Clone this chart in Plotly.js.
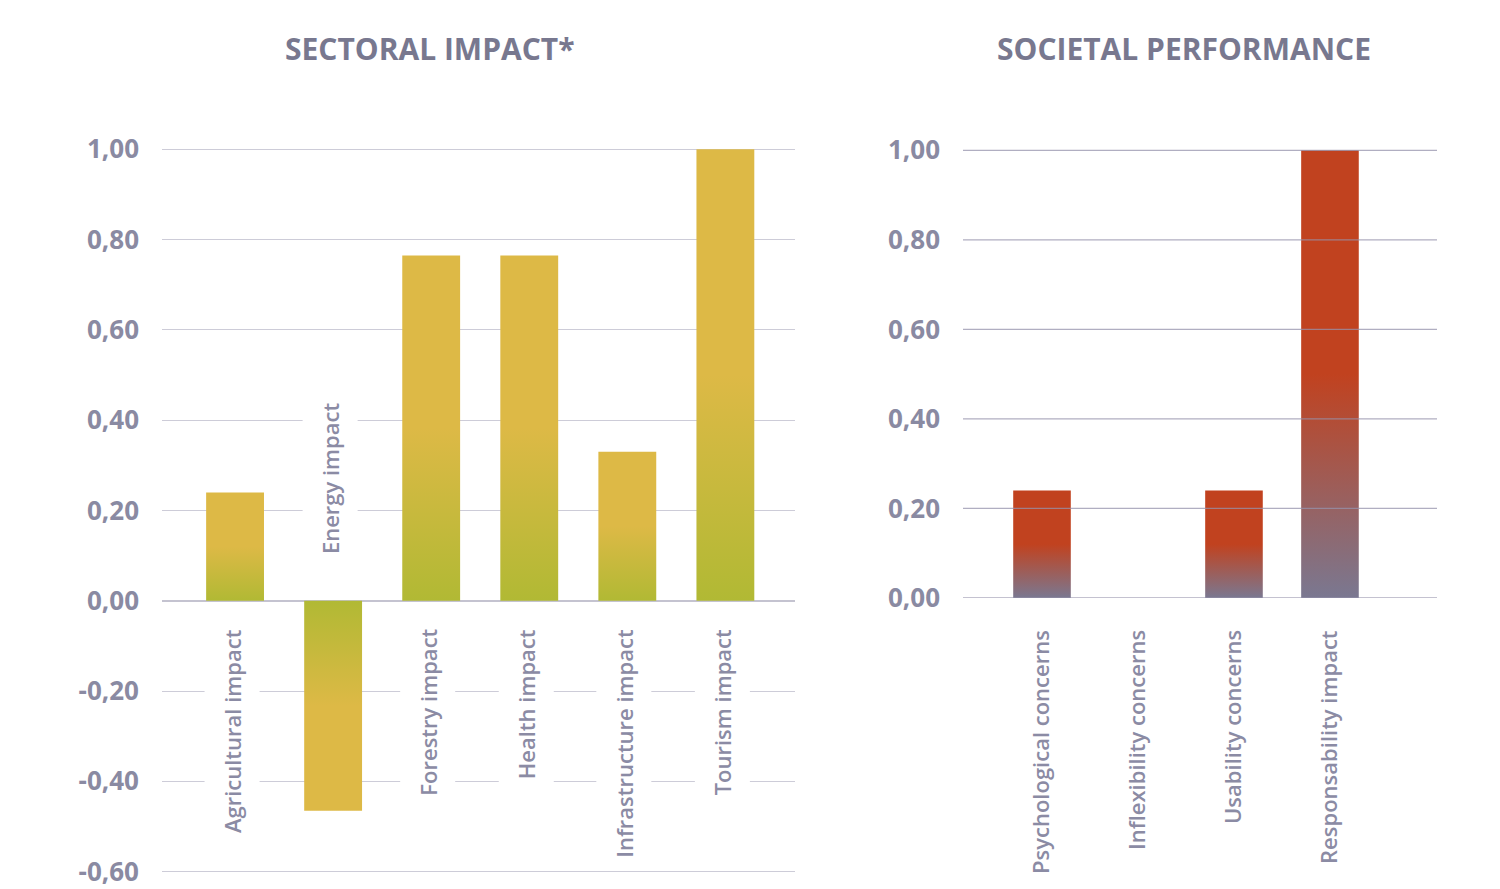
<!DOCTYPE html>
<html><head><meta charset="utf-8">
<script src="https://cdn.plot.ly/plotly-3.0.1.min.js"></script>
<style>html,body{margin:0;padding:0;background:#fff}#chart{width:1500px;height:889px}</style>
</head><body><div id="chart"></div>
<script>
// ---- data ----
const sectorCategories = ['Agricultural impact','Energy impact','Forestry impact','Health impact','Infrastructure impact','Tourism impact'];
const sectorValues = [0.24, -0.465, 0.765, 0.765, 0.33, 1.00];
const societalCategories = ['Psychological concerns','Inflexibility concerns','Usability concerns','Responsability impact'];
const societalValues = [0.24, 0.00, 0.24, 1.00];
const leftTickVals = [-0.6,-0.4,-0.2,0,0.2,0.4,0.6,0.8,1.0];
const rightTickVals = [0,0.2,0.4,0.6,0.8,1.0];
const chartTitles = ['SECTORAL IMPACT*','SOCIETAL PERFORMANCE'];

// ---- style ----
const FONT = '"Open Sans", Lato, sans-serif';
const YELLOW = '#DDB946', OLIVE = '#B1B934';
const RED = '#C1421F', SLATE = '#7A7891';
const LABEL = '#8B8BA4', TICK = '#8A8AA2', TITLE = '#78788F';

function barTraces(cats, vals, xa, ya, w, low, high) {
  return cats.map((c, i) => {
    const v = vals[i];
    const t = {
      type: 'scatter', mode: 'lines', xaxis: xa, yaxis: ya, name: c,
      x: [i - w/2, i - w/2, i + w/2, i + w/2, i - w/2],
      y: [0, v, v, 0, 0],
      fill: 'toself', fillcolor: high, line: {width: 0, color: high},
      hoveron: 'fills', hoverinfo: 'text',
      text: c + ': ' + v.toFixed(2).replace('.', ','),
      showlegend: false
    };
    if (v !== 0) {
      t.fillgradient = {
        type: 'vertical',
        colorscale: v > 0 ? [[0, low], [0.5, high], [1, high]] : [[0, high], [0.5, high], [1, low]],
        start: Math.min(0, v), stop: Math.max(0, v)
      };
    }
    return t;
  });
}

const data = [
  ...barTraces(sectorCategories, sectorValues, 'x', 'y', 0.59, OLIVE, YELLOW),
  ...barTraces(societalCategories, societalValues, 'x2', 'y2', 0.60, SLATE, RED)
];

const annotations = [];
sectorCategories.forEach((c, i) => {
  const neg = sectorValues[i] < 0;
  annotations.push({
    text: c, xref: 'x', yref: 'paper', x: i, xshift: -3,
    y: neg ? 0.3622 : 0.3071, yanchor: neg ? 'bottom' : 'top', xanchor: 'center',
    textangle: -90, showarrow: false, bgcolor: '#ffffff', borderpad: 12,
    font: {family: FONT, size: 22, color: LABEL, weight: 600}
  });
});
societalCategories.forEach((c, i) => {
  annotations.push({
    text: c, xref: 'x2', yref: 'paper', x: i, xshift: -2,
    y: 0.2936, yanchor: 'top', xanchor: 'center',
    textangle: -90, showarrow: false,
    font: {family: FONT, size: 22, color: LABEL, weight: 600}
  });
});
annotations.push({text: chartTitles[0], xref: 'paper', yref: 'paper', x: 430/1500, y: 1 - 48/889,
  xanchor: 'center', yanchor: 'middle', showarrow: false,
  font: {family: FONT, size: 30, color: TITLE, weight: 700}});
annotations.push({text: chartTitles[1], xref: 'paper', yref: 'paper', x: 1184/1500, y: 1 - 48/889,
  xanchor: 'center', yanchor: 'middle', showarrow: false,
  font: {family: FONT, size: 30, color: TITLE, weight: 700}});

const fmt = v => v.toFixed(2).replace('.', ',');

// right-panel gridlines sit over the bars in the reference
const shapes = rightTickVals.map(v => ({
  type: 'line', xref: 'x2 domain', yref: 'y2', x0: 0, x1: 1, y0: v, y1: v,
  layer: 'above', line: {color: 'rgba(150,147,172,0.75)', width: 1.3}
}));

const layout = {
  width: 1500, height: 889,
  margin: {l: 0, r: 0, t: 0, b: 0},
  paper_bgcolor: '#ffffff', plot_bgcolor: '#ffffff',
  showlegend: false,
  hovermode: 'closest',
  font: {family: FONT, color: TICK},
  xaxis: {domain: [162/1500, 795/1500], range: [-0.745, 5.71], showticklabels: false,
    showgrid: false, zeroline: false, showline: false, fixedrange: true},
  yaxis: {domain: [1 - 873/889, 1 - 148/889], range: [-0.603, 1.003], anchor: 'x',
    tickvals: leftTickVals, ticktext: leftTickVals.map(fmt),
    showgrid: true, gridcolor: '#CDCCD8', gridwidth: 1.3,
    zeroline: true, zerolinecolor: '#C4C3D0', zerolinewidth: 1.5,
    ticks: '', ticklabelstandoff: 22, automargin: false, ticklabeloverflow: 'allow',
    tickfont: {family: FONT, size: 26, color: TICK, weight: 'bold'}, fixedrange: true},
  xaxis2: {domain: [963/1500, 1437/1500], range: [-0.823, 4.115], anchor: 'y2', showticklabels: false,
    showgrid: false, zeroline: false, showline: false, fixedrange: true},
  yaxis2: {domain: [1 - 598/889, 1 - 149/889], range: [0, 1.003], anchor: 'x2',
    tickvals: rightTickVals, ticktext: rightTickVals.map(fmt),
    showgrid: false, zeroline: false,
    ticks: '', ticklabelstandoff: 22, automargin: false, ticklabeloverflow: 'allow',
    tickfont: {family: FONT, size: 26, color: TICK, weight: 'bold'}, fixedrange: true},
  shapes: shapes,
  annotations: annotations
};

Plotly.newPlot('chart', data, layout, {displayModeBar: false, responsive: false});
</script>
</body></html>
